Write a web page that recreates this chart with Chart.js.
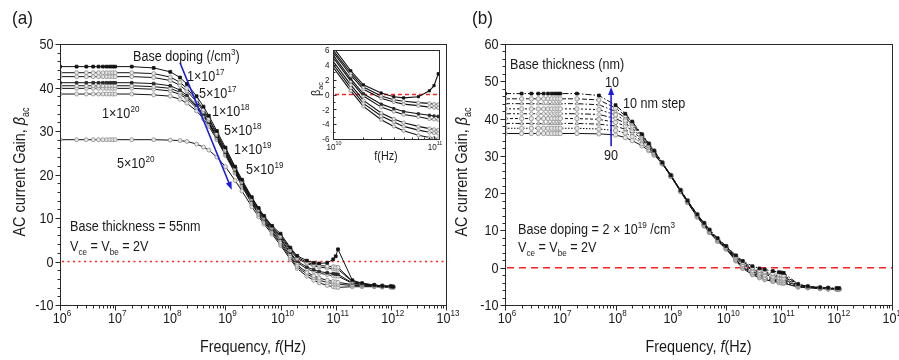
<!DOCTYPE html>
<html><head><meta charset="utf-8">
<script src="https://cdn.jsdelivr.net/npm/chart.js@4/dist/chart.umd.min.js"></script>
<style>
html,body{margin:0;padding:0;background:#fff;}
#wrap{position:relative;width:899px;height:360px;overflow:hidden;background:#fff;}
canvas{position:absolute;top:0;}
</style></head><body>
<div id="wrap">
<canvas id="cA" width="470" height="360" style="left:0px;top:0px"></canvas>
<canvas id="cB" width="449" height="360" style="left:450px;top:0px"></canvas>
<canvas id="cI" width="150" height="130" style="left:300px;top:40px"></canvas>
</div>
<script>
// ---------------- DATA ----------------
const freqA = [1e6,2e6,3e6,4e6,5e6,6e6,7e6,8e6,9e6,1e7,2e7,5e7,1e8,1.5e8,2e8,3e8,4e8,5e8,7e8,1e9,1.5e9,2e9,3e9,4e9,5e9,7e9,1e10,1.5e10,2e10,3e10,4e10,5e10,7e10,9e10,1e11,1.1e11,2e11,3e11,5e11,7e11,1e12,1.1e12];

// panel (a): base doping series
const dopingLabels = ['1\u00d710^17','5\u00d710^17','1\u00d710^18','5\u00d710^18','1\u00d710^19','5\u00d710^19','1\u00d710^20','5\u00d710^20'];
const gainDop1e17 = [44.8,44.8,44.8,44.8,44.8,44.8,44.8,44.8,44.8,44.8,44.8,44.5,43.6,42.3,40.8,38.0,35.6,33.5,30.0,26.2,21.8,18.8,14.8,12.3,10.5,8.2,6.4,3.2,1.3,0.2,-0.3,-0.45,-0.3,0.5,1.2,2.8,-4.3,-5.0,-5.4,-5.6,-5.7,-5.8];
const gainDop5e17 = [43.4,43.4,43.4,43.4,43.4,43.4,43.4,43.4,43.4,43.4,43.4,43.2,42.4,41.2,39.8,37.2,34.9,32.9,29.5,25.8,21.5,18.5,14.6,12.1,10.3,8.0,6.0,2.9,1.0,-0.2,-0.7,-0.9,-1.1,-1.2,-1.3,-1.35,-4.5,-5.1,-5.4,-5.6,-5.7,-5.8];
const gainDop1e18 = [42.5,42.5,42.5,42.5,42.5,42.5,42.5,42.5,42.5,42.5,42.5,42.3,41.6,40.5,39.2,36.7,34.5,32.5,29.2,25.5,21.3,18.3,14.4,11.9,10.1,7.8,5.7,2.6,0.7,-0.5,-1.0,-1.3,-1.5,-1.7,-1.75,-1.8,-4.6,-5.1,-5.5,-5.6,-5.7,-5.8];
const gainDop5e18 = [41.1,41.1,41.1,41.1,41.1,41.1,41.1,41.1,41.1,41.1,41.1,40.9,40.4,39.4,38.2,35.9,33.9,32.0,28.8,25.1,21.0,18.0,14.1,11.6,9.8,7.5,5.3,2.1,0.1,-1.3,-1.9,-2.3,-2.6,-2.8,-2.9,-2.95,-4.9,-5.3,-5.5,-5.7,-5.8,-5.8];
const gainDop1e19 = [40.4,40.4,40.4,40.4,40.4,40.4,40.4,40.4,40.4,40.4,40.4,40.2,39.8,38.9,37.8,35.6,33.6,31.8,28.6,24.9,20.8,17.8,13.9,11.4,9.6,7.3,5.0,1.8,-0.2,-1.7,-2.3,-2.7,-3.0,-3.3,-3.35,-3.4,-5.0,-5.3,-5.6,-5.7,-5.8,-5.9];
const gainDop5e19 = [39.8,39.8,39.8,39.8,39.8,39.8,39.8,39.8,39.8,39.8,39.8,39.6,39.2,38.4,37.4,35.3,33.4,31.6,28.4,24.7,20.6,17.6,13.6,11.1,9.3,7.0,4.5,1.3,-0.8,-2.5,-3.3,-3.8,-4.3,-4.6,-4.7,-4.8,-5.3,-5.5,-5.6,-5.7,-5.8,-5.9];
const gainDop1e20 = [38.5,38.5,38.5,38.5,38.5,38.5,38.5,38.5,38.5,38.5,38.5,38.3,38.0,37.3,36.4,34.6,32.8,31.1,28.0,24.4,20.3,17.3,13.3,10.8,9.0,6.7,4.1,0.9,-1.2,-2.9,-3.7,-4.3,-4.8,-5.1,-5.2,-5.25,-5.5,-5.6,-5.7,-5.8,-5.9,-5.9];
const gainDop5e20 = [28.0,28.0,28.0,28.0,28.0,28.0,28.0,28.0,28.0,28.0,28.0,28.0,27.9,27.8,27.6,27.0,26.3,25.6,24.0,21.8,18.6,16.2,12.6,10.3,8.6,6.3,3.7,0.5,-1.6,-3.4,-4.3,-4.9,-5.5,-5.8,-5.9,-5.95,-5.8,-5.8,-5.8,-5.9,-5.9,-5.9];

// panel (b): base thickness series (nm)
const thicknessLabels = ['10','20','30','40','50','60','70','80','90'];
const gainT10 = [46.7,46.7,46.7,46.7,46.7,46.7,46.7,46.7,46.7,46.7,46.7,46.2,43.6,41.3,39.2,35.8,33.3,31.4,28.2,24.8,20.8,18.0,14.3,12.0,10.2,7.9,5.8,3.3,1.8,0.4,-0.2,-0.5,-0.9,-1.2,-1.3,-1.4,-4.4,-5.0,-5.3,-5.4,-5.5,-5.5];
const gainT20 = [45.3,45.3,45.3,45.3,45.3,45.3,45.3,45.3,45.3,45.3,45.3,45.0,42.8,40.8,38.9,35.6,33.2,31.3,28.2,24.8,20.8,18.0,14.3,11.9,10.1,7.8,5.7,3.1,1.5,0.0,-0.7,-1.1,-1.5,-1.8,-1.9,-2.0,-4.5,-5.0,-5.3,-5.5,-5.6,-5.6];
const gainT30 = [44.0,44.0,44.0,44.0,44.0,44.0,44.0,44.0,44.0,44.0,44.0,43.7,41.9,40.2,38.5,35.4,33.0,31.2,28.1,24.7,20.7,17.9,14.2,11.8,10.0,7.7,5.6,2.9,1.2,-0.4,-1.1,-1.5,-1.9,-2.2,-2.3,-2.4,-4.6,-5.1,-5.4,-5.5,-5.6,-5.6];
const gainT40 = [42.6,42.6,42.6,42.6,42.6,42.6,42.6,42.6,42.6,42.6,42.6,42.4,41.0,39.5,38.0,35.1,32.8,31.0,28.1,24.7,20.7,17.9,14.1,11.7,9.9,7.6,5.5,2.7,0.9,-0.7,-1.4,-1.9,-2.3,-2.6,-2.7,-2.8,-4.7,-5.1,-5.4,-5.5,-5.6,-5.7];
const gainT50 = [41.3,41.3,41.3,41.3,41.3,41.3,41.3,41.3,41.3,41.3,41.3,41.1,40.0,38.8,37.4,34.7,32.5,30.8,28.0,24.6,20.6,17.8,14.0,11.6,9.8,7.5,5.4,2.5,0.6,-1.0,-1.8,-2.2,-2.7,-3.0,-3.1,-3.2,-4.8,-5.2,-5.4,-5.6,-5.7,-5.7];
const gainT60 = [40.0,40.0,40.0,40.0,40.0,40.0,40.0,40.0,40.0,40.0,40.0,39.8,39.0,38.0,36.8,34.3,32.3,30.6,28.0,24.6,20.6,17.7,13.9,11.5,9.7,7.4,5.3,2.3,0.4,-1.3,-2.1,-2.6,-3.0,-3.3,-3.4,-3.5,-4.9,-5.2,-5.5,-5.6,-5.7,-5.7];
const gainT70 = [38.7,38.7,38.7,38.7,38.7,38.7,38.7,38.7,38.7,38.7,38.7,38.5,38.0,37.1,36.0,33.8,32.0,30.5,27.9,24.6,20.5,17.6,13.8,11.4,9.6,7.3,5.2,2.1,0.2,-1.5,-2.3,-2.8,-3.3,-3.6,-3.7,-3.8,-5.0,-5.3,-5.5,-5.6,-5.7,-5.8];
const gainT80 = [37.4,37.4,37.4,37.4,37.4,37.4,37.4,37.4,37.4,37.4,37.4,37.2,36.8,36.1,35.2,33.3,31.7,30.3,27.9,24.5,20.5,17.6,13.7,11.3,9.5,7.2,5.1,2.0,0.0,-1.7,-2.5,-3.0,-3.5,-3.8,-3.9,-4.0,-5.1,-5.3,-5.5,-5.7,-5.7,-5.8];
const gainT90 = [36.0,36.0,36.0,36.0,36.0,36.0,36.0,36.0,36.0,36.0,36.0,35.9,35.6,34.9,34.1,32.7,31.4,30.2,27.9,24.5,20.4,17.5,13.6,11.2,9.4,7.1,5.0,1.8,-0.2,-1.9,-2.7,-3.2,-3.7,-4.0,-4.1,-4.2,-5.2,-5.4,-5.6,-5.7,-5.8,-5.8];

// ticks
const xExpMain = [6,7,8,9,10,11,12,13];
const yTicksA = [-10,0,10,20,30,40,50];
const yTicksB = [-10,0,10,20,30,40,50,60];
const xExpInset = [10,11];
const yTicksInset = [-6,-4,-2,0,2,4,6];

// annotation arrows in data coordinates [freq, gain]
const arrowA = [[1.5e8,45.7],[1.3e9,16.5]];
const arrowB = [[8.3e7,32.6],[8.3e7,48.5]];

// ---------------- HELPERS ----------------
const FONT = '"Liberation Sans", Arial, Helvetica, sans-serif';
const SX = 0.9;
function P(t,s,dy,i){ return {t:t,s:s,dy:dy||0,i:!!i}; }
function pf(p){ return (p.i?'italic ':'') + p.s + 'px ' + FONT; }
function drawRich(ctx, parts, x, y, align, color, rot){
  ctx.save();
  ctx.translate(x,y);
  if(rot) ctx.rotate(rot);
  ctx.scale(SX,1);
  let w=0;
  for(const p of parts){ ctx.font=pf(p); w+=ctx.measureText(p.t).width; }
  let cx = align==='center' ? -w/2 : (align==='right' ? -w : 0);
  ctx.fillStyle = color || '#1a1a1a';
  ctx.textBaseline='alphabetic'; ctx.textAlign='left';
  for(const p of parts){ ctx.font=pf(p); ctx.fillText(p.t, cx, p.dy); cx += ctx.measureText(p.t).width; }
  ctx.restore();
}
function sci(mant, exp, s){ return [P(mant+'\u00d710',s), P(String(exp), Math.round(s*0.66), -Math.round(s*0.45))]; }

function drawFrameTicks(chart, o){
  const ctx = chart.ctx, a = chart.chartArea, x = chart.scales.x, y = chart.scales.y;
  ctx.save();
  ctx.strokeStyle = '#2a2a2a'; ctx.lineWidth = 1;
  const L=Math.round(a.left)+0.5, T=Math.round(a.top)+0.5, R=Math.round(a.right)+0.5, B=Math.round(a.bottom)+0.5;
  ctx.strokeRect(L, T, R-L, B-T);
  const dir = o.inward ? -1 : 1;
  ctx.beginPath();
  for(let e=o.xExp[0]-1; e<=o.xExp[o.xExp.length-1]; e++){
    for(let k=1;k<=9;k++){
      const v = k*Math.pow(10,e);
      if(v < x.min*0.999 || v > x.max*1.001) continue;
      const px = Math.round(x.getPixelForValue(v))+0.5;
      const len = (k===1) ? o.major : o.minor;
      ctx.moveTo(px, B); ctx.lineTo(px, B + dir*len);
    }
  }
  const yt = o.yTicks;
  for(let v=yt[0]; v<=yt[yt.length-1]+1e-9; v+=o.yMinor){
    const py = Math.round(y.getPixelForValue(v))+0.5;
    const maj = yt.some(t=>Math.abs(t-v)<1e-6);
    const len = maj ? o.major : o.minor;
    ctx.moveTo(L, py); ctx.lineTo(L - dir*len, py);
  }
  ctx.stroke();
  // x labels
  for(const e of o.xExp){
    const px = x.getPixelForValue(Math.pow(10,e));
    drawRich(ctx, [P('10',o.fs), P(String(e), Math.round(o.fs*0.64), -Math.round(o.fs*0.5))], px+o.xlabDx, B+o.xlabDy, 'center');
  }
  // y labels
  for(const v of yt){
    const py = y.getPixelForValue(v);
    drawRich(ctx, [P(String(v), o.fs)], L-o.ylabGap, py+o.fs*0.36, 'right');
  }
  ctx.restore();
}
function zeroLine(chart, dash, width){
  const ctx=chart.ctx, a=chart.chartArea, y=chart.scales.y;
  const py = y.getPixelForValue(0);
  ctx.save();
  ctx.strokeStyle='#ff2020'; ctx.lineWidth=width; ctx.setLineDash(dash);
  ctx.beginPath(); ctx.moveTo(a.left+2, py); ctx.lineTo(a.right, py); ctx.stroke();
  ctx.restore();
}
function arrow(chart, pts){
  const ctx=chart.ctx, x=chart.scales.x, y=chart.scales.y;
  const x0=x.getPixelForValue(pts[0][0]), y0=y.getPixelForValue(pts[0][1]);
  const x1=x.getPixelForValue(pts[1][0]), y1=y.getPixelForValue(pts[1][1]);
  const ang=Math.atan2(y1-y0,x1-x0), hl=8, hw=3;
  ctx.save();
  ctx.strokeStyle='#1a1ae6'; ctx.fillStyle='#1a1ae6'; ctx.lineWidth=1.6;
  ctx.beginPath(); ctx.moveTo(x0,y0); ctx.lineTo(x1-Math.cos(ang)*hl*0.8, y1-Math.sin(ang)*hl*0.8); ctx.stroke();
  ctx.beginPath();
  ctx.moveTo(x1,y1);
  ctx.lineTo(x1-Math.cos(ang)*hl-Math.sin(ang)*hw, y1-Math.sin(ang)*hl+Math.cos(ang)*hw);
  ctx.lineTo(x1-Math.cos(ang)*hl+Math.sin(ang)*hw, y1-Math.sin(ang)*hl-Math.cos(ang)*hw);
  ctx.closePath(); ctx.fill();
  ctx.restore();
}
function yTitle(ctx, cx, cy){
  drawRich(ctx, [P('AC current Gain, ',16), P('\u03b2',16,0,true), P('ac',10,4)], cx, cy, 'center', '#1a1a1a', -Math.PI/2);
}
function xTitle(ctx, cx, by){
  drawRich(ctx, [P('Frequency, ',16), P('f',16,0,true), P('(Hz)',16)], cx, by, 'center');
}
function vText(ctx, x, y){
  drawRich(ctx, [P('V',14), P('ce',9,4), P(' = V',14), P('be',9,4), P(' = 2V',14)], x, y, 'left');
}

function makeDS(vals, opt){
  return Object.assign({
    data: freqA.map((f,i)=>({x:f, y:vals[i]})),
    borderColor:'#111', borderWidth:1, pointRadius:2, pointBorderWidth:0.8,
    pointBorderColor:'#8c8c8c', pointBackgroundColor:'#e6e6e6', pointStyle:'circle', tension:0
  }, opt||{});
}
const blackSq = {pointStyle:'rect', pointBorderColor:'#111', pointBackgroundColor:'#111', pointRadius:2};

// ---------------- PANEL A ----------------
const dsA = [
  makeDS(gainDop1e17, blackSq),
  makeDS(gainDop5e17),
  makeDS(gainDop1e18),
  makeDS(gainDop5e18, {pointStyle:'rect', pointBorderColor:'#222', pointBackgroundColor:'#333', pointRadius:1.8}),
  makeDS(gainDop1e19),
  makeDS(gainDop5e19),
  makeDS(gainDop1e20),
  makeDS(gainDop5e20)
];
dsA.forEach((d,i)=>d.label=dopingLabels[i]);

const pluginA = {
  id:'panelA',
  beforeDatasetsDraw(chart){ zeroLine(chart,[2,3.5],1.5); },
  afterDraw(chart){
    const ctx=chart.ctx;
    drawFrameTicks(chart,{xExp:xExpMain, yTicks:yTicksA, yMinor:2, major:5, minor:3, fs:14, xlabDy:17, xlabDx:2, ylabGap:7, inward:false});
    arrow(chart, arrowA);
    drawRich(ctx,[P('(a)',19)],12,24,'left');
    drawRich(ctx,[P('Base doping (/cm',14),P('3',9,-6),P(')',14)],133,61,'left');
    const pos=[[187,81],[199,98],[212,116],[224,135],[234,154],[246,174],[102,118],[117,168]];
    const mant=['1','5','1','5','1','5','1','5'], ex=[17,17,18,18,19,19,20,20];
    for(let i=0;i<8;i++) drawRich(ctx, sci(mant[i],ex[i],14), pos[i][0], pos[i][1], 'left');
    drawRich(ctx,[P('Base thickness = 55nm',14)],70,231,'left');
    vText(ctx,70,251);
    xTitle(ctx,(chart.chartArea.left+chart.chartArea.right)/2,352);
    yTitle(ctx,25,172);
  }
};

new Chart(document.getElementById('cA'), {
  type:'line',
  data:{datasets:dsA},
  options:{
    responsive:false, animation:false, devicePixelRatio:1,
    layout:{padding:{left:60,right:24,top:44,bottom:55}},
    scales:{x:{type:'logarithmic',min:1e6,max:1e13,display:false}, y:{type:'linear',min:-10,max:50,display:false}},
    plugins:{legend:{display:false}, tooltip:{enabled:false}}
  },
  plugins:[pluginA]
});

// ---------------- INSET ----------------
const dsI = dsA.map(d=>Object.assign({}, d, {pointRadius: d.pointStyle==='rect'?1.6:1.7, borderWidth:1.1}));
const pluginI = {
  id:'inset',
  beforeDatasetsDraw(chart){ zeroLine(chart,[4,3],1.3); },
  afterDraw(chart){
    const ctx=chart.ctx;
    drawFrameTicks(chart,{xExp:xExpInset, yTicks:yTicksInset, yMinor:1, major:3, minor:2, fs:9, xlabDy:10, xlabDx:1, ylabGap:4, inward:true});
    drawRich(ctx,[P('f(Hz)',12)],(chart.chartArea.left+chart.chartArea.right)/2,120,'center');
    drawRich(ctx,[P('\u03b2',12),P('ac',8,3)],20,49,'center','#1a1a1a',-Math.PI/2);
  }
};
new Chart(document.getElementById('cI'), {
  type:'line',
  data:{datasets:dsI},
  options:{
    responsive:false, animation:false, devicePixelRatio:1,
    layout:{padding:{left:33,right:11,top:10,bottom:31}},
    scales:{x:{type:'logarithmic',min:1e10,max:1.12e11,display:false}, y:{type:'linear',min:-6,max:6,display:false}},
    plugins:{legend:{display:false}, tooltip:{enabled:false}}
  },
  plugins:[pluginI]
});

// ---------------- PANEL B ----------------
const styleB = [
  Object.assign({borderDash:[6,2,1.5,2]}, blackSq),
  {borderDash:[5,2], pointStyle:'circle'},
  {borderDash:[5,2,1.5,2], pointStyle:'triangle'},
  {borderDash:[2,2], pointStyle:'circle'},
  {borderDash:[6,2,2,2,2,2], pointStyle:'rectRot'},
  {borderDash:[3,2], pointStyle:'circle'},
  {borderDash:[5,2,1.5,2], pointStyle:'triangle'},
  {borderDash:[1.5,1.5], pointStyle:'circle'},
  {borderDash:[], pointStyle:'circle'}
];
const seriesB = [gainT10,gainT20,gainT30,gainT40,gainT50,gainT60,gainT70,gainT80,gainT90];
const dsB = seriesB.map((v,i)=>{ const d=makeDS(v, Object.assign({pointRadius:2.2}, styleB[i])); d.label=thicknessLabels[i]; return d; });

const pluginB = {
  id:'panelB',
  beforeDatasetsDraw(chart){ zeroLine(chart,[7,5],1.5); },
  afterDraw(chart){
    const ctx=chart.ctx, ox=-450;
    drawFrameTicks(chart,{xExp:xExpMain, yTicks:yTicksB, yMinor:2, major:5, minor:3, fs:14, xlabDy:17, xlabDx:2, ylabGap:7, inward:false});
    arrow(chart, arrowB);
    drawRich(ctx,[P('(b)',19)],472+ox,24,'left');
    drawRich(ctx,[P('Base thickness (nm)',14)],510+ox,69,'left');
    drawRich(ctx,[P(thicknessLabels[0],14)],612+ox,87,'center');
    drawRich(ctx,[P('10 nm step',14)],623+ox,108,'left');
    drawRich(ctx,[P(thicknessLabels[8],14)],611+ox,160,'center');
    drawRich(ctx,[P('Base doping = 2 \u00d7 10',14),P('19',9,-6),P(' /cm',14),P('3',9,-6)],518+ox,234,'left');
    vText(ctx,518+ox,252);
    xTitle(ctx,(chart.chartArea.left+chart.chartArea.right)/2,352);
    yTitle(ctx,467+ox,172);
  }
};
new Chart(document.getElementById('cB'), {
  type:'line',
  data:{datasets:dsB},
  options:{
    responsive:false, animation:false, devicePixelRatio:1,
    layout:{padding:{left:55,right:7,top:44,bottom:55}},
    scales:{x:{type:'logarithmic',min:1e6,max:1e13,display:false}, y:{type:'linear',min:-10,max:60,display:false}},
    plugins:{legend:{display:false}, tooltip:{enabled:false}}
  },
  plugins:[pluginB]
});
</script>
</body></html>
